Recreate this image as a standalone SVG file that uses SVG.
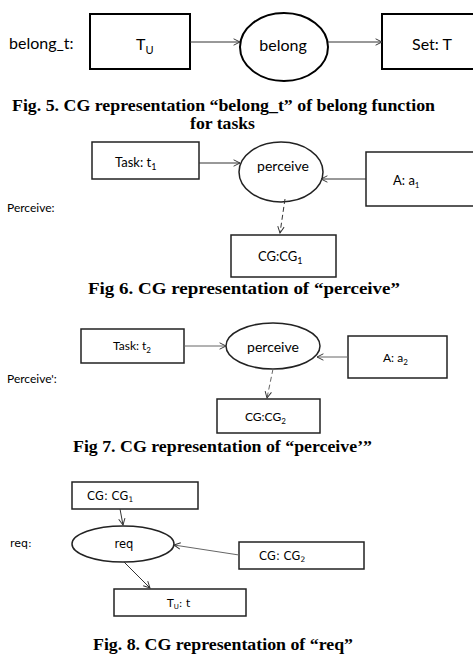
<svg xmlns="http://www.w3.org/2000/svg" width="473" height="659" viewBox="0 0 473 659">
<style>
.n{fill:#fff;stroke:#000;stroke-width:2}
.n2{fill:#fff;stroke:#222;stroke-width:1.5}
.c{stroke:#333;stroke-width:1;fill:none}
.cg{stroke:#666;stroke-width:1;fill:none}
.d{stroke-dasharray:5,3}
.t{font-family:Lato,"Open Sans","Liberation Sans",sans-serif;fill:#000}
.v{font-family:"DejaVu Sans","Liberation Sans",sans-serif;fill:#000}
.cap{font-family:"Liberation Serif","Times New Roman",serif;font-weight:bold;font-size:17px;fill:#000}
</style>
<defs>
<marker id="ah" viewBox="0 0 10 10" refX="9" refY="5" markerWidth="8" markerHeight="8" orient="auto" markerUnits="userSpaceOnUse">
<path d="M1,1 L9,5 L1,9" fill="none" stroke="#333" stroke-width="1.2"/>
</marker>
</defs>
<rect width="473" height="659" fill="#fff"/>

<!-- Fig 5 -->
<text class="t" x="9" y="49" font-size="16">belong_t:</text>
<g id="f5_tu"><rect class="n" x="90" y="14" width="100" height="55"/><text class="t" x="136" y="50" font-size="16">T<tspan font-size="11" dy="4">U</tspan></text></g>
<g id="f5_belong"><ellipse class="n" cx="284" cy="47" rx="44" ry="34"/><text class="t" x="283" y="51" font-size="16" text-anchor="middle">belong</text></g>
<g id="f5_set"><rect class="n" x="382" y="14" width="95" height="55"/><text class="t" x="412" y="50" font-size="16">Set: T</text></g>
<text class="cap" x="12" y="111" textLength="423" lengthAdjust="spacingAndGlyphs">Fig. 5. CG representation “belong_t” of belong function</text>
<text class="cap" x="190" y="129" textLength="65" lengthAdjust="spacingAndGlyphs">for tasks</text>

<!-- Fig 6 -->
<text class="t" x="7" y="212" font-size="12">Perceive:</text>
<g id="f6_task"><rect class="n2" x="92" y="142" width="107" height="37"/><text class="t" x="115" y="167" font-size="13">Task: t<tspan font-size="9" dy="3">1</tspan></text></g>
<g id="f6_perceive"><ellipse class="n2" cx="281" cy="172" rx="42" ry="30"/><text class="t" x="283" y="171" font-size="14" text-anchor="middle">perceive</text></g>
<g id="f6_a"><rect class="n2" x="366" y="152" width="110" height="54"/><text class="t" x="393" y="185" font-size="13">A: a<tspan font-size="8" dy="3">1</tspan></text></g>
<g id="f6_cg"><rect class="n2" x="231" y="235" width="105" height="42"/><text class="t" x="258" y="261" font-size="13">CG:CG<tspan font-size="9" dy="3">1</tspan></text></g>
<text class="cap" x="88" y="294" textLength="312" lengthAdjust="spacingAndGlyphs">Fig 6. CG representation of “perceive”</text>

<!-- Fig 7 -->
<text class="t" x="7" y="383" font-size="12">Perceive':</text>
<g id="f7_task"><rect class="n2" x="81" y="329" width="103" height="34"/><text class="t" x="113" y="350" font-size="12">Task: t<tspan font-size="8" dy="3">2</tspan></text></g>
<g id="f7_perceive"><ellipse class="n2" cx="273" cy="346" rx="47" ry="23"/><text class="t" x="273" y="352" font-size="14" text-anchor="middle">perceive</text></g>
<g id="f7_a"><rect class="n2" x="348" y="336" width="99" height="42"/><text class="t" x="383" y="362" font-size="12">A: a<tspan font-size="8" dy="3">2</tspan></text></g>
<g id="f7_cg"><rect class="n2" x="217" y="399" width="103" height="34"/><text class="t" x="245" y="421" font-size="12">CG:CG<tspan font-size="8" dy="3">2</tspan></text></g>
<text class="cap" x="73" y="452" textLength="299" lengthAdjust="spacingAndGlyphs">Fig 7. CG representation of “perceive’”</text>

<!-- Fig 8 -->
<text class="v" x="10" y="547" font-size="11">req:</text>
<g id="f8_cg1"><rect class="n2" x="72" y="482" width="126" height="27"/><text class="v" x="87" y="500" font-size="11.5">CG: CG<tspan font-size="7.5" dy="2">1</tspan></text></g>
<g id="f8_req"><ellipse class="n2" cx="123" cy="544" rx="51" ry="18"/><text class="v" x="124" y="548" font-size="11.5" text-anchor="middle">req</text></g>
<g id="f8_cg2"><rect class="n2" x="239" y="542" width="125" height="27"/><text class="v" x="259" y="560" font-size="11.5">CG: CG<tspan font-size="7.5" dy="2">2</tspan></text></g>
<g id="f8_tu"><rect class="n2" x="114" y="589" width="132" height="27"/><text class="v" x="167" y="607" font-size="11">T<tspan font-size="7" dy="2">U</tspan><tspan dy="-2">: t</tspan></text></g>
<text class="cap" x="93" y="650" textLength="260" lengthAdjust="spacingAndGlyphs">Fig. 8. CG representation of “req”</text>

<g id="connectors">
<line class="c" x1="190" y1="42" x2="240" y2="42" marker-end="url(#ah)"/>
<line class="c" x1="328" y1="42" x2="382" y2="42" marker-end="url(#ah)"/>
<line class="c" x1="199" y1="163" x2="240" y2="163" marker-end="url(#ah)"/>
<line class="c" x1="366" y1="179" x2="321" y2="179" marker-end="url(#ah)"/>
<line class="c d" x1="285" y1="199" x2="280" y2="233" marker-end="url(#ah)"/>
<line class="cg" x1="184" y1="346" x2="226" y2="346" marker-end="url(#ah)"/>
<line class="cg" x1="348" y1="357" x2="317" y2="357" marker-end="url(#ah)"/>
<line class="cg d" x1="273" y1="369" x2="267" y2="398" marker-end="url(#ah)"/>
<line class="c" x1="120" y1="509" x2="123" y2="525" marker-end="url(#ah)"/>
<line class="cg" x1="239" y1="555" x2="174" y2="545" marker-end="url(#ah)"/>
<line class="c" x1="124" y1="562" x2="150" y2="588" marker-end="url(#ah)"/>
</g>
</svg>
